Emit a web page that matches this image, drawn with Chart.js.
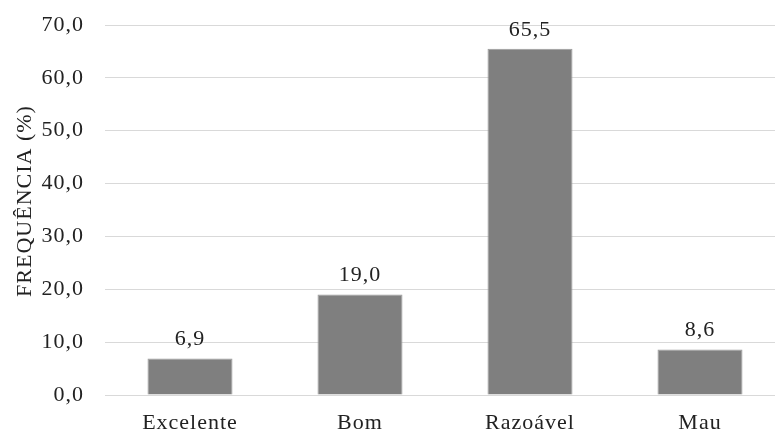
<!DOCTYPE html>
<html lang="pt">
<head>
<meta charset="UTF-8">
<script src="https://cdn.jsdelivr.net/npm/chart.js"></script>
<style>
  html, body { margin: 0; padding: 0; overflow: hidden; background: #fff; }
  .caixa { width: 790px; height: 433px; }
</style>
</head>
<body>
<div class="caixa">
  <canvas id="grafico"></canvas>
</div>
<script>
  // dados
  const categorias = ['Excelente', 'Bom', 'Razoável', 'Mau'];
  const frequencias = [6.9, 19.0, 65.5, 8.6];
  const tituloY = 'FREQUÊNCIA (%)';

  const fonte = 'Liberation Serif, Times New Roman, serif';
  const formatar = v => Number(v).toFixed(1).replace('.', ',');

  // espaçamento das letras (o original é mais largo)
  const espacamento = {
    id: 'espacamento',
    beforeDraw(chart) { chart.ctx.letterSpacing = '1px'; }
  };

  // rótulos em cima das barras + título do eixo Y
  const rotulos = {
    id: 'rotulos',
    afterDatasetsDraw(chart) {
      const ctx = chart.ctx;
      const meta = chart.getDatasetMeta(0);
      ctx.save();
      ctx.letterSpacing = '1px';
      ctx.font = '22px ' + fonte;
      ctx.fillStyle = '#222';
      ctx.textAlign = 'center';
      ctx.textBaseline = 'bottom';
      meta.data.forEach((barra, i) => {
        ctx.fillText(formatar(frequencias[i]), barra.x, barra.y - 8);
      });
      // título vertical
      const area = chart.chartArea;
      ctx.translate(25, (area.top + area.bottom) / 2 - 9);
      ctx.rotate(-Math.PI / 2);
      ctx.textBaseline = 'middle';
      ctx.fillText(tituloY, 0, 0);
      ctx.restore();
    }
  };

  new Chart(document.getElementById('grafico'), {
    type: 'bar',
    data: {
      labels: categorias,
      datasets: [{
        data: frequencias,
        backgroundColor: '#7f7f7f',
        borderColor: '#9a9a9a',
        borderWidth: 1,
        categoryPercentage: 1,
        barPercentage: 0.5
      }]
    },
    options: {
      responsive: true,
      maintainAspectRatio: false,
      animation: false,
      layout: { padding: { top: 25, right: 5, left: 0, bottom: 0 } },
      plugins: { legend: { display: false }, tooltip: { enabled: false } },
      scales: {
        x: {
          grid: { display: false },
          border: { display: false },
          ticks: { color: '#222', font: { family: fonte, size: 22 }, padding: 7 },
          afterFit(s) { s.height = 38; }
        },
        y: {
          min: 0,
          max: 70,
          ticks: {
            stepSize: 10,
            color: '#222',
            font: { family: fonte, size: 22 },
            padding: 21,
            callback: v => formatar(v)
          },
          grid: { color: '#d9d9d9', lineWidth: 1, drawTicks: false },
          border: { display: false },
          afterFit(s) {
            s.width = 105;
            s.paddingTop = 0;
            s.paddingBottom = 0;
          }
        }
      }
    },
    plugins: [espacamento, rotulos]
  });
</script>
</body>
</html>
